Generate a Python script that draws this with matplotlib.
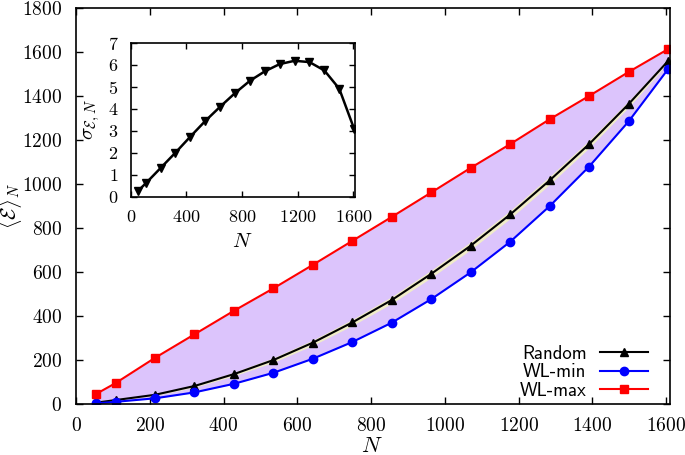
import numpy as np
import matplotlib
matplotlib.use("Agg")
import matplotlib.pyplot as plt

plt.rcParams['font.family'] = 'cmr10'
plt.rcParams['mathtext.fontset'] = 'cm'
plt.rcParams['axes.formatter.use_mathtext'] = True

N = [53.5, 107, 214, 321, 428, 535, 642, 749, 856, 963, 1070, 1177, 1284, 1391, 1498, 1605]
random_mean = [6, 18, 42, 82, 136, 200, 279, 371, 473, 592, 720, 862, 1017, 1182, 1364, 1560]
wl_min = [3, 10, 26, 53, 92, 142, 206, 282, 370, 477, 599, 738, 900, 1080, 1285, 1523]
wl_max = [45, 95, 210, 317, 424, 526, 633, 742, 851, 962, 1074, 1182, 1295, 1401, 1510, 1614]
sigma = [0.27, 0.6, 1.3, 2.0, 2.73, 3.44, 4.09, 4.71, 5.27, 5.7, 6.03, 6.18, 6.12, 5.74, 4.91, 3.08]

rm = np.array(random_mean)
sg = np.array(sigma)

fig = plt.figure(figsize=(6.85, 4.55), dpi=100)
ax = fig.add_axes([0.111, 0.112, 0.867, 0.870])

ax.fill_between(N, wl_min, wl_max, color='#dcc4fc', lw=0)
ax.fill_between(N, rm - 3 * sg, rm + 3 * sg, color='#f0ecc8', lw=0)
ax.plot(N, random_mean, color='black', marker='^', ms=6, lw=1.5, label='Random')
ax.plot(N, wl_min, color='#0000ff', marker='o', ms=6, lw=1.5, label='WL-min')
ax.plot(N, wl_max, color='#ff0000', marker='s', ms=6, lw=1.5, label='WL-max')

ax.set_xlim(0, 1610)
ax.set_ylim(0, 1800)
ax.set_xticks(range(0, 1601, 200))
ax.set_yticks(range(0, 1801, 200))
ax.tick_params(direction='in', top=True, right=True, labelsize=14, length=5, width=1)
ax.tick_params(axis='x', pad=9)
ax.tick_params(axis='y', pad=10)
for s in ax.spines.values():
    s.set_linewidth(1.2)
ax.set_xlabel('$N$', fontsize=16)
ax.set_ylabel(r'$\langle \mathcal{E} \rangle_N$', fontsize=15)
ax.xaxis.set_label_coords((372 - 76) / 594, -(436 - 404) / 396)
ax.yaxis.set_label_coords(-(76 - 24) / 594, (404 - 206) / 396)

leg = ax.legend(loc='lower right', frameon=False, markerfirst=False,
                prop={'family': 'cmss10', 'size': 13.5}, handlelength=2.6,
                handletextpad=0.7, labelspacing=0.02, borderaxespad=0,
                bbox_to_anchor=((656 - 76) / 594, -(407 - 404) / 396))

ins = fig.add_axes([0.191, 0.568, 0.327, 0.338])
ins.plot(N, sigma, color='black', marker='v', ms=6, lw=1.8)
ins.set_xlim(0, 1610)
ins.set_ylim(0, 7)
ins.set_xticks(range(0, 1601, 400))
ins.set_yticks(range(0, 8))
ins.tick_params(direction='in', top=True, right=True, labelsize=13, length=4, width=1)
ins.tick_params(axis='x', pad=9)
ins.tick_params(axis='y', pad=9)
for s in ins.spines.values():
    s.set_linewidth(1.2)
ins.set_xlabel('$N$', fontsize=15)
ins.set_ylabel(r'$\sigma_{\mathcal{E},N}$', fontsize=15)
ins.xaxis.set_label_coords((242 - 131) / 224, -(233 - 197) / 154)
ins.yaxis.set_label_coords(-(131 - 102) / 224, (197 - 120) / 154)

fig.savefig('out.png', dpi=100)
